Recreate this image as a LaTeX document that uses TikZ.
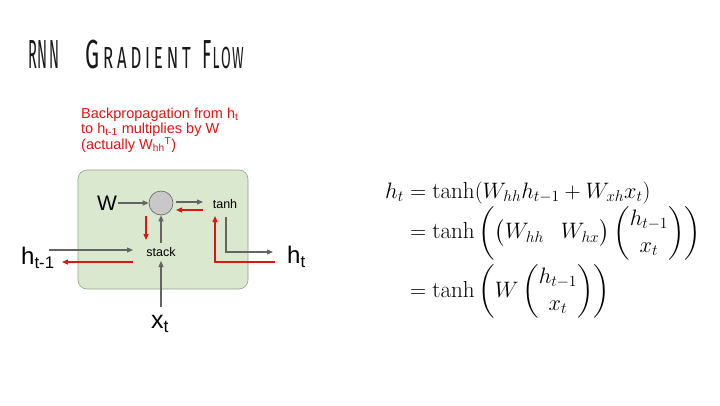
\documentclass[tikz,border=0pt]{standalone}
\usepackage{amsmath}
\usepackage{fontspec}
\setmainfont{Latin Modern Roman}
\newfontfamily\arialf{Liberation Sans}
\newfontfamily\titlef{Fira Sans}
\usetikzlibrary{arrows.meta}
\definecolor{cellgreen}{RGB}{217,232,207}
\definecolor{cellborder}{RGB}{150,160,140}
\definecolor{arrgray}{RGB}{100,100,100}
\definecolor{bpred}{RGB}{225,20,20}
\definecolor{nodegray}{RGB}{200,200,200}
\newcommand{\bigc}[1]{{\fontsize{40.6}{42}\selectfont #1}}
\newcommand{\smc}[1]{{\fontsize{30.5}{32}\selectfont #1}}
\tikzset{
  fwd/.style={draw=arrgray, line width=1.1pt, -{Triangle[length=6pt,width=5pt]}},
  bwd/.style={draw=bpred, line width=1.3pt, -{Triangle[length=6pt,width=5pt]}},
  lbl/.style={font=\arialf, inner sep=0pt},
  titleword/.style={anchor=base west, inner sep=0pt, font=\titlef, text=black!90},
}
\begin{document}
\begin{tikzpicture}[x=1pt,y=-1pt]
\useasboundingbox (0,0) rectangle (720,405);
% title
\node[titleword, xscale=0.36] (t1) at (28,68) {\bigc{R\kern3pt N\kern3pt N}};
\node[titleword, xscale=0.55] (t2) at (85,68) {\bigc{G}\kern7pt\smc{R\kern7pt A\kern7pt D\kern7pt I\kern7pt E\kern7pt N\kern7pt T}};
\node[titleword, xscale=0.46] (t3) at (202,68) {\bigc{F}\kern3pt\smc{L\kern3pt O\kern3pt W}};
% caption
\node[anchor=north west, align=left, text=bpred, font=\arialf\fontsize{14.5}{15}\selectfont, inner sep=0pt] (cap) at (81,107.5)
 {Backpropagation from h\textsubscript{t}\\to h\textsubscript{t-1} multiplies by W\\(actually W\textsubscript{hh}\textsuperscript{T})};
% cell
\draw[fill=cellgreen, draw=cellborder, line width=0.6pt, rounded corners=9pt] (78,170) rectangle (248,289);
\node[circle, fill=nodegray, draw=arrgray, line width=0.6pt, minimum size=24pt, inner sep=0pt] (mul) at (161,203) {};
\node[lbl, font=\arialf\fontsize{21}{21}\selectfont] (W) at (107,203) {W};
\node[lbl, font=\arialf\fontsize{12.5}{13}\selectfont] (tanh) at (225,204) {tanh};
\node[lbl, font=\arialf\fontsize{12.5}{13}\selectfont] (stack) at (161,252) {stack};
\node[lbl, font=\arialf\fontsize{24}{24}\selectfont, anchor=west] (hprev) at (21,258) {h\textsubscript{t-1}};
\node[lbl, font=\arialf\fontsize{24}{24}\selectfont, anchor=west] (hnext) at (287,257) {h\textsubscript{t}};
\node[lbl, font=\arialf\fontsize{25}{25}\selectfont] (xt) at (160,324) {x\textsubscript{t}};
\coordinate (hin) at (49,250);
\coordinate (hout) at (62,262);
\coordinate (xin) at (161,307);
\coordinate (hto) at (273,252);
\coordinate (hfrom) at (275,262);
% forward arrows
\draw[fwd] (118,203) -- (mul.west);
\draw[fwd] (176,202) -- (203,202);
\draw[fwd] (161,243) -- (mul.south);
\draw[fwd] (hin) -- (133,250);
\draw[fwd] (xin) -- (161,261);
\draw[fwd] (226,217) -- (226,252) -- (hto);
% backward arrows
\draw[bwd] (203,210) -- (176,210);
\draw[bwd] (146,216) -- (146,240);
\draw[bwd] (133,262) -- (hout);
\draw[bwd] (hfrom) -- (215,262) -- (215,216);
% equations
\node[anchor=west, inner sep=0pt, scale=1.077, font=\fontsize{21.5}{25}\selectfont] (eq) at (385,249) {$\begin{aligned}
h_t &= \tanh(W_{hh}h_{t-1}+W_{xh}x_t)\\[-4pt]
&= \tanh\left(\begin{pmatrix}W_{hh} & \; W_{hx}\end{pmatrix}\begin{pmatrix}h_{t-1}\\ x_t\end{pmatrix}\right)\\
&= \tanh\left(W\begin{pmatrix}h_{t-1}\\ x_t\end{pmatrix}\right)
\end{aligned}$};
\end{tikzpicture}
\end{document}
